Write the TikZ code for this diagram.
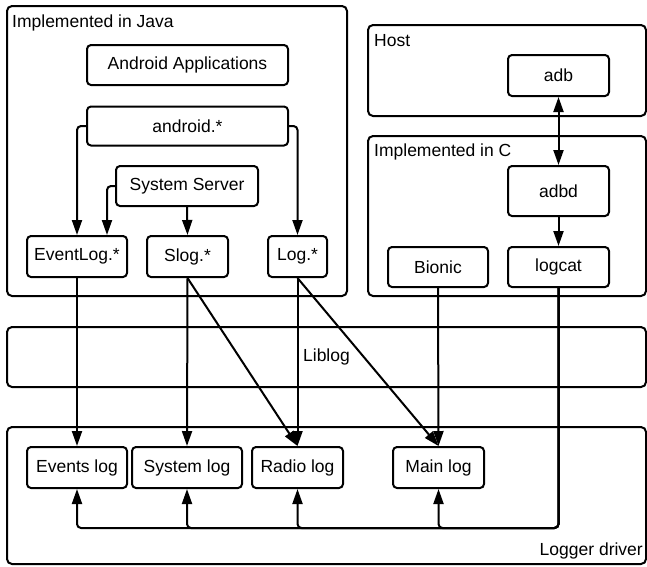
\documentclass[tikz,border=0pt]{standalone}
\usepackage{fontspec}
\setmainfont{Liberation Sans}
\usetikzlibrary{arrows.meta}
\begin{document}
\begin{tikzpicture}[x=1pt,y=-1pt,
  lw/.style={line width=2pt},
  box/.style={lw, draw, rounded corners=4pt, inner sep=0pt, align=center,
    font=\fontsize{17.5}{20}\selectfont},
  container/.style={lw, draw, rounded corners=5pt, inner sep=0pt},
  lbl/.style={inner sep=0pt, font=\fontsize{17.5}{20}\selectfont},
  tip/.tip={Triangle[length=15pt,width=10pt]},
  conn/.style={lw, -tip},
  conn2/.style={lw, tip-tip},
  bus/.style={lw, rounded corners=4pt, -tip}
]
\useasboundingbox (0,0) rectangle (647,566);

% containers
\node[container, minimum width=340pt, minimum height=290pt] (java) at (177,151) {};
\node[lbl, anchor=base west] (javalbl) at (12,27) {Implemented in Java};
\node[container, minimum width=278pt, minimum height=91pt] (host) at (507,70.5) {};
\node[lbl, anchor=base west] (hostlbl) at (374,46) {Host};
\node[container, minimum width=278pt, minimum height=160pt] (cimpl) at (507,216) {};
\node[lbl, anchor=base west] (clbl) at (374,156) {Implemented in C};
\node[container, minimum width=639pt, minimum height=60pt, font=\fontsize{17.5}{20}\selectfont] (liblog) at (326.5,357) {Liblog};
\node[container, minimum width=639pt, minimum height=137pt] (logger) at (326.5,495.5) {};
\node[lbl, anchor=base east] (loggerlbl) at (643,555) {Logger driver};

% Java nodes
\node[box, minimum width=201pt, minimum height=40pt] (apps) at (187.5,65) {Android Applications};
\node[box, minimum width=201pt, minimum height=39pt] (android) at (187.5,126) {android.*};
\node[box, minimum width=142pt, minimum height=40pt] (sysserv) at (187,186) {System Server};
\node[box, minimum width=100pt, minimum height=41pt] (eventlogj) at (77,256.5) {EventLog.*};
\node[box, minimum width=81pt, minimum height=41pt] (slog) at (187.5,256.5) {Slog.*};
\node[box, minimum width=59pt, minimum height=41pt] (logj) at (297.5,256.5) {Log.*};

% C / host nodes
\node[box, minimum width=101pt, minimum height=41pt] (adb) at (558.5,75.5) {adb};
\node[box, minimum width=101pt, minimum height=50pt] (adbd) at (558.5,191) {adbd};
\node[box, minimum width=101pt, minimum height=40pt] (logcat) at (558.5,267) {logcat};
\node[box, minimum width=100pt, minimum height=40pt] (bionic) at (438,267) {Bionic};

% logs
\node[box, minimum width=100pt, minimum height=41pt] (eventslog) at (77,467.5) {Events log};
\node[box, minimum width=110pt, minimum height=41pt] (systemlog) at (187,467.5) {System log};
\node[box, minimum width=91pt, minimum height=41pt] (radiolog) at (297.5,467.5) {Radio log};
\node[box, minimum width=91pt, minimum height=41pt] (mainlog) at (438.5,467.5) {Main log};

% Java connectors
\draw[conn, rounded corners=4pt] (android.west) -| (eventlogj.north);
\draw[conn, rounded corners=4pt] (android.east) -| (logj.north);
\draw[conn, rounded corners=4pt] (sysserv.west) -| ([xshift=30pt]eventlogj.north);
\draw[conn] (sysserv.south) -- (slog.north);

% host / C connectors
\draw[conn2] (adb.south) -- (adbd.north);
\draw[conn] (adbd.south) -- (logcat.north);

% to logs
\draw[conn] (eventlogj.south) -- (eventslog.north);
\draw[conn] (slog.south) -- (systemlog.north);
\draw[conn] (slog.south) -- (radiolog.north);
\draw[conn] (logj.south) -- (radiolog.north);
\draw[conn] (logj.south) -- (mainlog.north);
\draw[conn] (bionic.south) -- (mainlog.north);

% logcat bus
\draw[bus] (logcat.south) |- ([yshift=-39pt]eventslog.south) -- (eventslog.south);
\draw[bus] (logcat.south) |- ([yshift=-39pt]systemlog.south) -- (systemlog.south);
\draw[bus] (logcat.south) |- ([yshift=-39pt]radiolog.south) -- (radiolog.south);
\draw[bus] (logcat.south) |- ([yshift=-39pt]mainlog.south) -- (mainlog.south);
\end{tikzpicture}
\end{document}
